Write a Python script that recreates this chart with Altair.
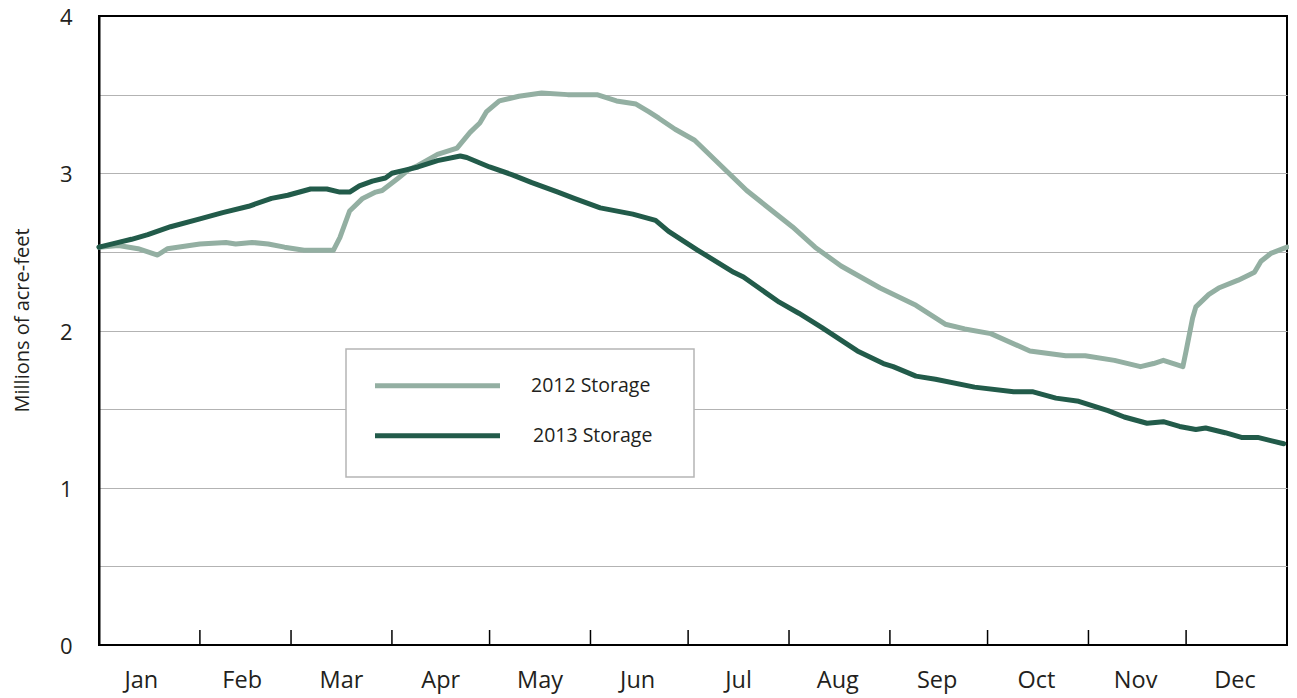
import altair as alt
import pandas as pd

# ---- data ----
series = ["2012 Storage", "2013 Storage"]
colors = ["#93afa2", "#225b4a"]

days_2012 = [0, 6, 12, 18, 21, 31, 39, 42, 47, 52, 57, 63, 72, 74, 77, 81, 85, 87, 92, 95,
             98, 104, 110, 114, 117, 119, 123, 129, 136, 144, 153, 159, 165, 169, 172, 177,
             183, 190, 199, 213, 220, 228, 240, 251, 260, 266, 274, 286, 297, 303, 312, 320,
             324, 327, 333, 334, 336, 337, 341, 344, 350, 353, 355, 357, 360, 365]
vals_2012 = [2.53, 2.54, 2.52, 2.48, 2.52, 2.55, 2.56, 2.55, 2.56, 2.55, 2.53, 2.51, 2.51, 2.59,
             2.76, 2.84, 2.88, 2.89, 2.97, 3.02, 3.05, 3.12, 3.16, 3.26, 3.32, 3.39, 3.46, 3.49,
             3.51, 3.50, 3.50, 3.46, 3.44, 3.39, 3.35, 3.28, 3.21, 3.07, 2.89, 2.66, 2.53, 2.41,
             2.27, 2.16, 2.04, 2.01, 1.98, 1.87, 1.84, 1.84, 1.81, 1.77, 1.79, 1.81, 1.77, 1.87,
             2.08, 2.15, 2.23, 2.27, 2.32, 2.35, 2.37, 2.44, 2.49, 2.53]

days_2013 = [0, 6, 10, 15, 22, 31, 38, 46, 53, 58, 65, 70, 74, 77, 80, 84, 88, 90, 94, 98,
             104, 111, 113, 120, 127, 133, 141, 146, 154, 164, 171, 175, 184, 195, 198, 209,
             215, 222, 233, 241, 244, 251, 257, 269, 281, 287, 294, 301, 310, 315, 322, 327,
             332, 337, 340, 346, 351, 356, 360, 364]
vals_2013 = [2.53, 2.56, 2.58, 2.61, 2.66, 2.71, 2.75, 2.79, 2.84, 2.86, 2.90, 2.90, 2.88, 2.88,
             2.92, 2.95, 2.97, 3.00, 3.02, 3.04, 3.08, 3.11, 3.10, 3.04, 2.99, 2.94, 2.88, 2.84,
             2.78, 2.74, 2.70, 2.63, 2.51, 2.37, 2.34, 2.18, 2.11, 2.02, 1.87, 1.79, 1.77, 1.71,
             1.69, 1.64, 1.61, 1.61, 1.57, 1.55, 1.49, 1.45, 1.41, 1.42, 1.39, 1.37, 1.38, 1.35,
             1.32, 1.32, 1.30, 1.28]

month_names = ["Jan", "Feb", "Mar", "Apr", "May", "Jun",
               "Jul", "Aug", "Sep", "Oct", "Nov", "Dec"]
month_label_days = [13, 44, 74.5, 105, 135.5, 165.5, 196.5, 227, 257.5, 288, 318.5, 349]
month_start_days = [31, 59, 90, 120, 151, 181, 212, 243, 273, 304, 334]
y_grid_values = [0, 0.5, 1, 1.5, 2, 2.5, 3, 3.5, 4]

# ---- layout ----
W, H = 1188, 629
FONT = "Open Sans"
TEXT = "#231f20"

df = pd.concat([
    pd.DataFrame({"series": series[0], "day": days_2012, "value": vals_2012}),
    pd.DataFrame({"series": series[1], "day": days_2013, "value": vals_2013}),
])
months_df = pd.DataFrame({"month": month_names, "day": month_label_days})

x_scale = alt.Scale(domain=[0, 365], nice=False, zero=False)
y_scale = alt.Scale(domain=[0, 4], nice=False, zero=False)
color_scale = alt.Scale(domain=series, range=colors)

lines = alt.Chart(df).mark_line(strokeWidth=5, strokeJoin="round", strokeCap="round").encode(
    x=alt.X("day:Q", scale=x_scale,
            axis=alt.Axis(values=month_start_days, ticks=False, labels=False,
                          grid=False, title=None, domainColor="black", domainWidth=2)),
    y=alt.Y("value:Q", scale=y_scale,
            axis=alt.Axis(values=y_grid_values,
                          labelExpr="datum.value % 1 == 0 ? format(datum.value, 'd') : ''",
                          ticks=False, grid=True,
                          gridColor={"condition": {"test": "datum.value == 4 || datum.value == 0",
                                                   "value": "black"}, "value": "#b3b3b3"},
                          gridWidth=1.2, domainColor="black", domainWidth=2,
                          labelFontSize=22, labelFont=FONT, labelColor=TEXT,
                          labelPadding=27, labelOffset=1.5, labelFlush=False,
                          labelOverlap=False,
                          title="Millions of acre-feet", titleFont=FONT,
                          titleFontSize=20, titleFontWeight="normal", titleColor=TEXT,
                          titleAngle=270, titleX=-77, titleY=304,
                          titleAlign="center", titleBaseline="middle")),
    color=alt.Color("series:N", scale=color_scale, legend=None),
)

ticks = alt.Chart(pd.DataFrame({"day": month_start_days})).mark_rule(
    color="black", strokeWidth=1.5).encode(
    x=alt.X("day:Q", scale=x_scale, axis=None),
    y=alt.value(H - 15), y2=alt.value(H))

month_labels = alt.Chart(months_df).mark_text(
    baseline="alphabetic", align="center", fontSize=23.5, font=FONT, color=TEXT).encode(
    x=alt.X("day:Q", scale=x_scale, axis=None),
    y=alt.value(H + 43), text="month:N")

legend_box = alt.Chart(pd.DataFrame({"k": [0]})).mark_rect(
    fill="white", stroke="#b5b5b5", strokeWidth=1.5).encode(
    x=alt.value(247), x2=alt.value(595), y=alt.value(333), y2=alt.value(461))

leg_layers = []
for s, ly, lx in zip(series, [369.7, 419.7], [432, 434]):
    d = pd.DataFrame({"series": [s]})
    leg_layers.append(alt.Chart(d).mark_rule(strokeWidth=5).encode(
        x=alt.value(276), x2=alt.value(401), y=alt.value(ly),
        color=alt.Color("series:N", scale=color_scale, legend=None)))
    leg_layers.append(alt.Chart(d).mark_text(
        align="left", baseline="middle", fontSize=19.5, font=FONT, color=TEXT).encode(
        x=alt.value(lx), y=alt.value(ly), text="series:N"))

chart = alt.layer(lines, ticks, month_labels, legend_box, *leg_layers).properties(
    width=W, height=H,
    padding={"left": 91, "top": 8, "right": 2, "bottom": 52},
    autosize=alt.AutoSizeParams(type="none"),
).configure_view(stroke="black", strokeWidth=2)

chart.save("out.html", embed_options={"renderer": "svg", "actions": False})
